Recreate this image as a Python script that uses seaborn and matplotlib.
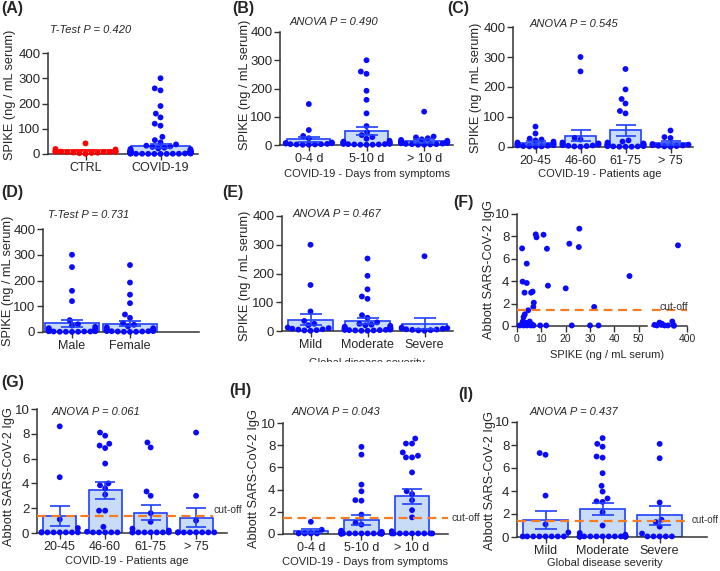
import warnings
import numpy as np
import pandas as pd
import matplotlib
matplotlib.use("Agg")
import matplotlib.pyplot as plt
import seaborn as sns
from matplotlib.transforms import Bbox, TransformedBbox

warnings.filterwarnings("ignore")

# ---------------- data ----------------
# (A) controls vs patients, SPIKE ng/mL
a_cats = ["CTRL", "COVID-19"]
a_ctrl = [18, 11, 10, 10, 9, 9, 8, 8, 7, 6, 5, 3, 1, 4, 9, 11, 20, 42]
a_covid = [300, 260, 252, 190, 160, 145, 120, 112, 68, 55, 46, 38, 33, 30, 28, 25, 22, 20, 19,
           15, 14, 13, 12, 12, 11, 10, 10, 9, 9, 8, 8, 7, 7, 7, 6, 6, 6, 5, 5, 5, 4, 4, 4,
           3, 3, 3, 3, 2, 2, 2, 2, 1, 1, 1, 1, 0.5, 0.5, 0.5, 0.5]
a_means = [14, 32]
a_sems = [2.5, 9]

# (B) days from symptoms, SPIKE
days_cats = ["0-4 d", "5-10 d", "> 10 d"]
b_d04 = [145, 53, 32, 24, 9, 7, 6, 5, 4, 3, 3, 2, 2, 1, 1]
b_d510 = [300, 260, 252, 192, 160, 112, 67, 45, 35, 28, 22, 15, 12, 10, 9, 8, 7, 6, 5, 4, 4,
          3, 3, 2, 2, 1, 1, 1]
b_d10 = [118, 30, 27, 24, 20, 18, 15, 13, 12, 10, 9, 8, 7, 6, 5, 4, 3, 3, 2, 1, 1]
b_means = [20, 50, 15]
b_sems = [9.5, 15, 7]

# (C) patients age, SPIKE
age_cats = ["20-45", "46-60", "61-75", "> 75"]
c_a1 = [68, 45, 28, 25, 22, 18, 15, 12, 10, 9, 8, 6, 5, 4, 3, 2, 2, 1]
c_a2 = [300, 252, 30, 25, 15, 12, 10, 8, 6, 5, 4, 3, 2, 1]
c_a3 = [260, 192, 160, 145, 120, 112, 22, 18, 15, 12, 10, 9, 8, 7, 6, 5, 4, 3, 3, 2, 2, 1, 1, 1]
c_a4 = [55, 33, 30, 10, 8, 6, 5, 4, 3, 2, 1]
c_means = [13, 37, 56, 14]
c_sems = [6, 18, 18, 6]

# (D) sex, SPIKE
sex_cats = ["Male", "Female"]
d_male = [300, 252, 160, 120, 46, 30, 25, 20, 15, 12, 10, 9, 8, 7, 6, 5, 5, 4, 4, 3, 3, 2, 2, 2,
          1, 1, 1, 0.5]
d_female = [260, 192, 145, 112, 68, 55, 35, 28, 22, 18, 15, 12, 10, 9, 8, 7, 6, 5, 5, 4, 4, 3,
            3, 2, 2, 1, 1, 0.5]
d_means = [34, 33]
d_sems = [13, 10]

# (E) severity, SPIKE
sev_cats = ["Mild", "Moderate", "Severe"]
e_mild = [300, 160, 68, 35, 25, 20, 12, 10, 8, 6, 5, 3, 2, 1]
e_mod = [252, 192, 145, 120, 112, 55, 46, 30, 25, 22, 20, 18, 15, 13, 12, 11, 10, 9, 8, 7, 6, 6,
         5, 5, 4, 4, 3, 3, 2, 2, 1, 1]
e_sev = [260, 12, 10, 9, 8, 6, 5, 4, 3, 2, 1]
e_means = [40, 34, 26]
e_sems = [20, 10, 18]

# (F) SPIKE vs Abbott IgG
f_spike = [2.1, 2.3, 3.1, 4.0, 4.0, 5.8, 6.4, 6.9, 6.7, 4.6, 3.2, 2.7, 7.7, 8.0, 10.9, 12.3,
           12.7, 20.0, 21.5, 25.4, 25.6, 31.7, 46.2,
           1.1, 2.0, 2.4, 2.7, 3.4, 4.1, 4.8, 5.2, 5.7, 6.1, 6.8, 9.5, 12.0, 22.5, 30.0, 33.5,
           75, 98, 125, 142, 149, 176, 209, 253, 266, 269, 310]
f_igg = [6.93, 3.96, 2.98, 5.57, 3.84, 2.98, 3.07, 2.08, 1.70, 1.40, 1.04, 0.80, 8.18, 7.92,
         8.15, 6.90, 3.60, 3.36, 7.35, 7.05, 8.69, 1.70, 4.46,
         0.05, 0.15, 0.4, 0.05, 0.3, 0.05, 0.25, 0.4, 0.05, 0.15, 0.05, 0.05, 0.05, 0.05, 0.05,
         0.05,
         0.1, 0.05, 0.3, 0.1, 0.2, 0.05, 0.05, 0.4, 0.1, 0.02, 7.2]

# (G) age, IgG
g_a1 = [8.6, 4.5, 1.1, 0.4] + [0.05] * 8
g_a2 = [8.1, 7.85, 7.2, 7.05, 6.85, 5.6, 4.0, 3.85, 3.6, 3.1, 1.8, 1.8, 0.5, 0.1] + [0.05] * 5
g_a3 = [7.3, 6.9, 3.35, 3.0, 1.6, 0.9, 0.35, 0.2] + [0.05] * 8
g_a4 = [8.1, 3.0, 1.0] + [0.05] * 8
g_means = [1.35, 3.45, 1.62, 1.25]
g_sems = [0.8, 0.7, 0.6, 0.8]

# (H) days, IgG
h_d04 = [1.1, 0.38] + [0.05] * 4
h_d510 = [7.85, 7.15, 4.45, 3.85, 3.05, 3.0, 1.75, 1.0, 0.85, 0.3, 0.2] + [0.05] * 16
h_d10 = [8.6, 8.15, 8.15, 7.35, 7.05, 6.9, 6.9, 5.55, 3.85, 3.6, 3.05, 2.15, 1.5, 0.25] + [0.05] * 9
h_means = [0.28, 1.3, 3.4]
h_sems = [0.15, 0.45, 0.68]

# (I) severity, IgG
i_mild = [7.3, 7.15, 3.6, 1.1, 0.4] + [0.05] * 8
i_mod = [8.6, 8.1, 7.85, 7.0, 6.9, 5.55, 4.45, 3.95, 3.35, 3.1, 3.05, 2.15, 1.0, 0.35, 0.2] + [0.05] * 20
i_sev = [8.1, 6.85, 3.0, 1.5, 1.3, 0.9, 0.3] + [0.05] * 5
i_means = [1.5, 2.4, 1.88]
i_sems = [0.77, 0.53, 0.8]

cutoff = 1.4

# ---------------- style ----------------
sns.set_style("ticks")
plt.rcParams["font.family"] = ["Liberation Sans", "DejaVu Sans"]

DOT = "#0a0aff"
EDGE = "#2040ff"
FACE = "#c8dcf8"
ORANGE = "#f57c20"
AXC = "#333333"

W, H = 720, 571
fig = plt.figure(figsize=(W / 100, H / 100), dpi=100)


def box(x0, y0, x1, y1):
    return fig.add_axes([x0 / W, 1 - y1 / H, (x1 - x0) / W, (y1 - y0) / H])


def ftext(x, y, s, **kw):
    return fig.text(x / W, 1 - y / H, s, **kw)


def style_axis(ax, ymax, ystep, xsize=9, ysize=9.5):
    sns.despine(ax=ax)
    for s in ["left", "bottom"]:
        ax.spines[s].set_color(AXC)
        ax.spines[s].set_linewidth(1.1)
    ax.tick_params(axis="both", direction="out", length=4, width=1, color=AXC, pad=1.5)
    ax.tick_params(axis="x", labelsize=xsize)
    ax.tick_params(axis="y", labelsize=ysize)
    ax.set_ylim(0, ymax)
    ax.set_yticks(np.arange(0, ymax + ystep / 2, ystep))
    ax.set_xlabel("")
    ax.set_ylabel("")


def bar_panel(ax, cats, groups, means, sems, width, xlim, ymax, ystep,
              faces=None, edges=None, dots=None, cap=7):
    n = len(cats)
    faces = faces or [FACE] * n
    edges = edges or [EDGE] * n
    dots = dots or [DOT] * n
    sns.barplot(x=cats, y=means, hue=cats, order=cats, hue_order=cats, palette=faces,
                width=width, saturation=1, errorbar=None, legend=False, linewidth=1.2,
                ax=ax, zorder=1)
    for p, ec in zip(ax.patches, edges):
        p.set_edgecolor(ec)
    df = pd.DataFrame({"grp": np.repeat(cats, [len(g) for g in groups]),
                       "val": np.concatenate(groups)})
    sns.swarmplot(data=df, x="grp", y="val", hue="grp", order=cats, hue_order=cats,
                  palette=dots, size=4.2, legend=False, ax=ax, zorder=3)
    for k in range(n):
        ax.errorbar([k], [means[k]], yerr=[sems[k]], fmt="none", ecolor=edges[k],
                    elinewidth=1.2, capsize=cap, capthick=1.2, zorder=4)
    for c in ax.collections:
        c.set_clip_on(False)
    ax.set_xlim(*xlim)
    style_axis(ax, ymax, ystep)


def cut_line(ax, x0, x1):
    ax.plot([x0, x1], [cutoff, cutoff], ls=(0, (4, 2.5)), color=ORANGE, lw=1.6,
            zorder=5, clip_on=False)


# ---------------- panels ----------------
axA = box(48, 53, 198, 154)
bar_panel(axA, a_cats, [a_ctrl, a_covid], a_means, a_sems, 0.78, (-0.5, 1.5), 400, 100,
          faces=["white", FACE], edges=["#ff1010", EDGE], dots=["#ff0000", DOT], cap=8)

axB = box(280, 32, 453, 145)
bar_panel(axB, days_cats, [b_d04, b_d510, b_d10], b_means, b_sems, 0.75, (-0.5, 2.5),
          400, 100, cap=8)

axC = box(513, 27, 693, 147)
bar_panel(axC, age_cats, [c_a1, c_a2, c_a3, c_a4], c_means, c_sems, 0.69, (-0.5, 3.5),
          400, 100)

axD = box(43, 229, 199, 332)
bar_panel(axD, sex_cats, [d_male, d_female], d_means, d_sems, 0.93, (-0.5, 2.19), 400, 100,
          cap=8)

axE = box(282, 216, 453, 331)
bar_panel(axE, sev_cats, [e_mild, e_mod, e_sev], e_means, e_sems, 0.78, (-0.5, 2.5),
          400, 100, cap=8)

# (F) broken x axis scatter
fx = np.array(f_spike)
fy = np.array(f_igg)
lo = fx <= 53
axF = box(517, 214, 647, 326)
axF2 = box(652, 214, 687, 326)
sns.scatterplot(x=fx[lo], y=fy[lo], color=DOT, s=18, edgecolor="none", ax=axF, zorder=3)
sns.scatterplot(x=fx[~lo], y=fy[~lo], color=DOT, s=18, edgecolor="none", ax=axF2, zorder=3)
for a in (axF, axF2):
    for c in a.collections:
        c.set_clip_on(False)
    style_axis(a, 10, 2, xsize=7.5)
axF.set_xlim(0, 53.4)
axF.set_xticks([0, 10, 20, 30, 40, 50])
axF2.set_xlim(50, 400)
axF2.set_xticks([400])
axF2.spines["left"].set_visible(False)
axF2.tick_params(axis="y", left=False, labelleft=False)
cut_line(axF, 0, 53.4)
cut_line(axF2, 50, 400)
ftext(660, 307, "cut-off", fontsize=7.5, color=AXC, va="center")

axG = box(37, 409, 227, 533)
bar_panel(axG, age_cats, [g_a1, g_a2, g_a3, g_a4], g_means, g_sems, 0.73, (-0.5, 3.68),
          10, 2)
cut_line(axG, -0.5, 3.365)
ftext(213, 510, "cut-off", fontsize=7.5, color=AXC, va="center")

axH = box(283, 423, 448, 534)
bar_panel(axH, days_cats, [h_d04, h_d510, h_d10], h_means, h_sems, 0.68, (-0.55, 2.71),
          10, 2)
cut_line(axH, -0.55, 2.71)
ftext(451, 518, "cut-off", fontsize=7.5, color=AXC, va="center")

axI = box(517, 422, 707, 537)
bar_panel(axI, sev_cats, [i_mild, i_mod, i_sev], i_means, i_sems, 0.8, (-0.5, 2.83), 10, 2,
          cap=8)
cut_line(axI, -0.5, 2.53)
ftext(692, 520, "cut-off", fontsize=7, color=AXC, va="center")

# ---------------- texts ----------------
spike_lab = "SPIKE (ng / mL serum)"
igg_lab = "Abbott SARS-CoV-2 IgG"
for x, y, s in [(10, 95, spike_lab), (245, 85, spike_lab), (476, 88, spike_lab),
                (8.5, 281, spike_lab), (245, 276, spike_lab), (489, 270, igg_lab),
                (9.5, 477, igg_lab), (254, 478, igg_lab), (489.5, 481, igg_lab)]:
    ftext(x, y, s, rotation=90, fontsize=9.2, ha="center", va="center")

for x, y, s in [(367, 174, "COVID-19 - Days from symptoms"),
                (600, 174, "COVID-19 - Patients age"),
                (607, 355, "SPIKE (ng / mL serum)"),
                (127, 561, "COVID-19 - Patients age"),
                (365, 562, "COVID-19 - Days from symptoms"),
                (605, 563, "Global disease severity")]:
    ftext(x, y, s, fontsize=8, ha="center", va="center")

te = ftext(367, 363, "Global disease severity", fontsize=8, ha="center", va="center")
te.set_clip_box(TransformedBbox(Bbox([[0, 1 - 362 / H], [1, 1]]), fig.transFigure))
te.set_clip_on(True)

for x, y, s in [(50, 30, "T-Test P = 0.420"), (290, 22, "ANOVA P = 0.490"),
                (530, 24, "ANOVA P = 0.545"), (48, 215, "T-Test P = 0.731"),
                (293, 214, "ANOVA P = 0.467"), (52, 412, "ANOVA P = 0.061"),
                (292, 412, "ANOVA P = 0.043"), (530, 412, "ANOVA P = 0.437")]:
    ftext(x, y, s, fontsize=8, style="italic", va="center")

for x, y, s in [(1, 8, "(A)"), (232, 8, "(B)"), (447, 9, "(C)"), (1, 192, "(D)"),
                (222, 193, "(E)"), (453, 203, "(F)"), (1, 383, "(G)"), (229, 390, "(H)"),
                (458, 394, "(I)")]:
    ftext(x, y, s, fontsize=11.5, fontweight="bold", va="center")

fig.savefig("out.png", dpi=100, facecolor="white")
